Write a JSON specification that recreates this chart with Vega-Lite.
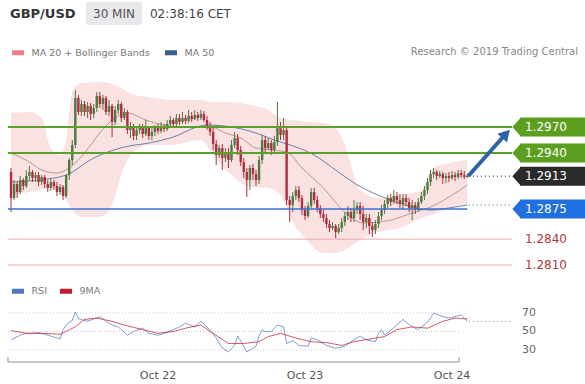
{
  "$schema": "https://vega.github.io/schema/vega-lite/v6.json",
  "width": 585,
  "height": 384,
  "padding": 0,
  "autosize": {"type": "none"},
  "background": "#ffffff",
  "config": {
    "view": {"stroke": null},
    "axis": {"disable": true},
    "text": {"font": "DejaVu Sans"}
  },
  "datasets": {
    "candles": [
      {"t":"2019-10-21T00:00","o":1.29178,"h":1.29225,"l":1.28714,"c":1.28877},
      {"t":"2019-10-21T00:30","o":1.28877,"h":1.29085,"l":1.28853,"c":1.29039},
      {"t":"2019-10-21T01:00","o":1.29039,"h":1.29062,"l":1.28877,"c":1.28946},
      {"t":"2019-10-21T01:30","o":1.28946,"h":1.29132,"l":1.28923,"c":1.29085},
      {"t":"2019-10-21T02:00","o":1.29085,"h":1.29109,"l":1.28969,"c":1.29016},
      {"t":"2019-10-21T02:30","o":1.29016,"h":1.29201,"l":1.28993,"c":1.29132},
      {"t":"2019-10-21T03:00","o":1.29132,"h":1.29248,"l":1.29085,"c":1.29178},
      {"t":"2019-10-21T03:30","o":1.29178,"h":1.29201,"l":1.29062,"c":1.29109},
      {"t":"2019-10-21T04:00","o":1.29109,"h":1.29178,"l":1.29062,"c":1.29143},
      {"t":"2019-10-21T04:30","o":1.29143,"h":1.29178,"l":1.29016,"c":1.29062},
      {"t":"2019-10-21T05:00","o":1.29062,"h":1.29143,"l":1.29027,"c":1.29120},
      {"t":"2019-10-21T05:30","o":1.29120,"h":1.29143,"l":1.28993,"c":1.29039},
      {"t":"2019-10-21T06:00","o":1.29039,"h":1.29085,"l":1.28946,"c":1.28993},
      {"t":"2019-10-21T06:30","o":1.28993,"h":1.29097,"l":1.28958,"c":1.29062},
      {"t":"2019-10-21T07:00","o":1.29062,"h":1.29085,"l":1.28969,"c":1.29016},
      {"t":"2019-10-21T07:30","o":1.29016,"h":1.29062,"l":1.28900,"c":1.28946},
      {"t":"2019-10-21T08:00","o":1.28946,"h":1.29039,"l":1.28912,"c":1.29004},
      {"t":"2019-10-21T08:30","o":1.29004,"h":1.29027,"l":1.28853,"c":1.28900},
      {"t":"2019-10-21T09:00","o":1.28900,"h":1.29143,"l":1.28877,"c":1.29143},
      {"t":"2019-10-21T09:30","o":1.29143,"h":1.29340,"l":1.29085,"c":1.29317},
      {"t":"2019-10-21T10:00","o":1.29317,"h":1.29549,"l":1.29259,"c":1.29491},
      {"t":"2019-10-21T10:30","o":1.29491,"h":1.30129,"l":1.29456,"c":1.30036},
      {"t":"2019-10-21T11:00","o":1.30036,"h":1.30071,"l":1.29839,"c":1.29874},
      {"t":"2019-10-21T11:30","o":1.29874,"h":1.30013,"l":1.29828,"c":1.29967},
      {"t":"2019-10-21T12:00","o":1.29967,"h":1.30002,"l":1.29828,"c":1.29874},
      {"t":"2019-10-21T12:30","o":1.29874,"h":1.29990,"l":1.29805,"c":1.29944},
      {"t":"2019-10-21T13:00","o":1.29944,"h":1.29978,"l":1.29781,"c":1.29851},
      {"t":"2019-10-21T13:30","o":1.29851,"h":1.29967,"l":1.29805,"c":1.29920},
      {"t":"2019-10-21T14:00","o":1.29920,"h":1.30105,"l":1.29874,"c":1.30059},
      {"t":"2019-10-21T14:30","o":1.30059,"h":1.30105,"l":1.29920,"c":1.29967},
      {"t":"2019-10-21T15:00","o":1.29967,"h":1.30071,"l":1.29897,"c":1.30036},
      {"t":"2019-10-21T15:30","o":1.30036,"h":1.30059,"l":1.29839,"c":1.29874},
      {"t":"2019-10-21T16:00","o":1.29874,"h":1.30013,"l":1.29828,"c":1.29944},
      {"t":"2019-10-21T16:30","o":1.29944,"h":1.29967,"l":1.29584,"c":1.29758},
      {"t":"2019-10-21T17:00","o":1.29758,"h":1.29944,"l":1.29723,"c":1.29897},
      {"t":"2019-10-21T17:30","o":1.29897,"h":1.30013,"l":1.29851,"c":1.29967},
      {"t":"2019-10-21T18:00","o":1.29967,"h":1.29990,"l":1.29758,"c":1.29805},
      {"t":"2019-10-21T18:30","o":1.29805,"h":1.29920,"l":1.29781,"c":1.29874},
      {"t":"2019-10-21T19:00","o":1.29874,"h":1.29897,"l":1.29619,"c":1.29665},
      {"t":"2019-10-21T19:30","o":1.29665,"h":1.29758,"l":1.29572,"c":1.29712},
      {"t":"2019-10-21T20:00","o":1.29712,"h":1.29735,"l":1.29549,"c":1.29596},
      {"t":"2019-10-21T20:30","o":1.29596,"h":1.29712,"l":1.29549,"c":1.29665},
      {"t":"2019-10-21T21:00","o":1.29665,"h":1.29735,"l":1.29619,"c":1.29712},
      {"t":"2019-10-21T21:30","o":1.29712,"h":1.29735,"l":1.29572,"c":1.29619},
      {"t":"2019-10-21T22:00","o":1.29619,"h":1.29781,"l":1.29596,"c":1.29689},
      {"t":"2019-10-21T22:30","o":1.29689,"h":1.29712,"l":1.29549,"c":1.29596},
      {"t":"2019-10-21T23:00","o":1.29596,"h":1.29689,"l":1.29549,"c":1.29642},
      {"t":"2019-10-21T23:30","o":1.29642,"h":1.29723,"l":1.29596,"c":1.29689},
      {"t":"2019-10-22T00:00","o":1.29689,"h":1.29735,"l":1.29619,"c":1.29654},
      {"t":"2019-10-22T00:30","o":1.29654,"h":1.29758,"l":1.29630,"c":1.29700},
      {"t":"2019-10-22T01:00","o":1.29700,"h":1.29735,"l":1.29642,"c":1.29677},
      {"t":"2019-10-22T01:30","o":1.29677,"h":1.29781,"l":1.29654,"c":1.29735},
      {"t":"2019-10-22T02:00","o":1.29735,"h":1.29828,"l":1.29712,"c":1.29781},
      {"t":"2019-10-22T02:30","o":1.29781,"h":1.29805,"l":1.29689,"c":1.29735},
      {"t":"2019-10-22T03:00","o":1.29735,"h":1.29851,"l":1.29712,"c":1.29805},
      {"t":"2019-10-22T03:30","o":1.29805,"h":1.29851,"l":1.29723,"c":1.29758},
      {"t":"2019-10-22T04:00","o":1.29758,"h":1.29874,"l":1.29735,"c":1.29805},
      {"t":"2019-10-22T04:30","o":1.29805,"h":1.29839,"l":1.29735,"c":1.29770},
      {"t":"2019-10-22T05:00","o":1.29770,"h":1.29897,"l":1.29747,"c":1.29828},
      {"t":"2019-10-22T05:30","o":1.29828,"h":1.29874,"l":1.29758,"c":1.29793},
      {"t":"2019-10-22T06:00","o":1.29793,"h":1.29897,"l":1.29781,"c":1.29839},
      {"t":"2019-10-22T06:30","o":1.29839,"h":1.29874,"l":1.29770,"c":1.29805},
      {"t":"2019-10-22T07:00","o":1.29805,"h":1.29897,"l":1.29781,"c":1.29851},
      {"t":"2019-10-22T07:30","o":1.29851,"h":1.29886,"l":1.29758,"c":1.29781},
      {"t":"2019-10-22T08:00","o":1.29781,"h":1.29828,"l":1.29665,"c":1.29712},
      {"t":"2019-10-22T08:30","o":1.29712,"h":1.29758,"l":1.29596,"c":1.29642},
      {"t":"2019-10-22T09:00","o":1.29642,"h":1.29689,"l":1.29433,"c":1.29503},
      {"t":"2019-10-22T09:30","o":1.29503,"h":1.29549,"l":1.29259,"c":1.29375},
      {"t":"2019-10-22T10:00","o":1.29375,"h":1.29491,"l":1.29340,"c":1.29456},
      {"t":"2019-10-22T10:30","o":1.29456,"h":1.29503,"l":1.29201,"c":1.29340},
      {"t":"2019-10-22T11:00","o":1.29340,"h":1.29456,"l":1.29294,"c":1.29410},
      {"t":"2019-10-22T11:30","o":1.29410,"h":1.29456,"l":1.29225,"c":1.29317},
      {"t":"2019-10-22T12:00","o":1.29317,"h":1.29549,"l":1.29294,"c":1.29491},
      {"t":"2019-10-22T12:30","o":1.29491,"h":1.29642,"l":1.29456,"c":1.29572},
      {"t":"2019-10-22T13:00","o":1.29572,"h":1.29619,"l":1.29375,"c":1.29433},
      {"t":"2019-10-22T13:30","o":1.29433,"h":1.29480,"l":1.29248,"c":1.29294},
      {"t":"2019-10-22T14:00","o":1.29294,"h":1.29340,"l":1.29109,"c":1.29178},
      {"t":"2019-10-22T14:30","o":1.29178,"h":1.29225,"l":1.28888,"c":1.29085},
      {"t":"2019-10-22T15:00","o":1.29085,"h":1.29259,"l":1.28969,"c":1.29225},
      {"t":"2019-10-22T15:30","o":1.29225,"h":1.29271,"l":1.29085,"c":1.29155},
      {"t":"2019-10-22T16:00","o":1.29155,"h":1.29201,"l":1.29016,"c":1.29085},
      {"t":"2019-10-22T16:30","o":1.29085,"h":1.29364,"l":1.29039,"c":1.29317},
      {"t":"2019-10-22T17:00","o":1.29317,"h":1.29607,"l":1.29271,"c":1.29549},
      {"t":"2019-10-22T17:30","o":1.29549,"h":1.29596,"l":1.29410,"c":1.29456},
      {"t":"2019-10-22T18:00","o":1.29456,"h":1.29572,"l":1.29433,"c":1.29514},
      {"t":"2019-10-22T18:30","o":1.29514,"h":1.29549,"l":1.29375,"c":1.29433},
      {"t":"2019-10-22T19:00","o":1.29433,"h":1.29596,"l":1.29410,"c":1.29526},
      {"t":"2019-10-22T19:30","o":1.29526,"h":1.29990,"l":1.29480,"c":1.29712},
      {"t":"2019-10-22T20:00","o":1.29712,"h":1.29758,"l":1.29549,"c":1.29607},
      {"t":"2019-10-22T20:30","o":1.29607,"h":1.29805,"l":1.29549,"c":1.29665},
      {"t":"2019-10-22T21:00","o":1.29665,"h":1.29712,"l":1.28795,"c":1.28853},
      {"t":"2019-10-22T21:30","o":1.28853,"h":1.28900,"l":1.28598,"c":1.28795},
      {"t":"2019-10-22T22:00","o":1.28795,"h":1.28946,"l":1.28714,"c":1.28900},
      {"t":"2019-10-22T22:30","o":1.28900,"h":1.29016,"l":1.28853,"c":1.28969},
      {"t":"2019-10-22T23:00","o":1.28969,"h":1.29016,"l":1.28830,"c":1.28877},
      {"t":"2019-10-22T23:30","o":1.28877,"h":1.28912,"l":1.28679,"c":1.28737},
      {"t":"2019-10-23T00:00","o":1.28737,"h":1.28784,"l":1.28621,"c":1.28668},
      {"t":"2019-10-23T00:30","o":1.28668,"h":1.28830,"l":1.28645,"c":1.28784},
      {"t":"2019-10-23T01:00","o":1.28784,"h":1.28993,"l":1.28761,"c":1.28946},
      {"t":"2019-10-23T01:30","o":1.28946,"h":1.28993,"l":1.28807,"c":1.28853},
      {"t":"2019-10-23T02:00","o":1.28853,"h":1.28900,"l":1.28714,"c":1.28761},
      {"t":"2019-10-23T02:30","o":1.28761,"h":1.28795,"l":1.28645,"c":1.28691},
      {"t":"2019-10-23T03:00","o":1.28691,"h":1.28737,"l":1.28598,"c":1.28645},
      {"t":"2019-10-23T03:30","o":1.28645,"h":1.28691,"l":1.28529,"c":1.28575},
      {"t":"2019-10-23T04:00","o":1.28575,"h":1.28621,"l":1.28482,"c":1.28529},
      {"t":"2019-10-23T04:30","o":1.28529,"h":1.28598,"l":1.28505,"c":1.28552},
      {"t":"2019-10-23T05:00","o":1.28552,"h":1.28575,"l":1.28413,"c":1.28482},
      {"t":"2019-10-23T05:30","o":1.28482,"h":1.28575,"l":1.28459,"c":1.28529},
      {"t":"2019-10-23T06:00","o":1.28529,"h":1.28645,"l":1.28482,"c":1.28598},
      {"t":"2019-10-23T06:30","o":1.28598,"h":1.28714,"l":1.28552,"c":1.28668},
      {"t":"2019-10-23T07:00","o":1.28668,"h":1.28784,"l":1.28621,"c":1.28714},
      {"t":"2019-10-23T07:30","o":1.28714,"h":1.28761,"l":1.28598,"c":1.28645},
      {"t":"2019-10-23T08:00","o":1.28645,"h":1.28853,"l":1.28598,"c":1.28737},
      {"t":"2019-10-23T08:30","o":1.28737,"h":1.28830,"l":1.28691,"c":1.28784},
      {"t":"2019-10-23T09:00","o":1.28784,"h":1.28830,"l":1.28621,"c":1.28691},
      {"t":"2019-10-23T09:30","o":1.28691,"h":1.28784,"l":1.28505,"c":1.28598},
      {"t":"2019-10-23T10:00","o":1.28598,"h":1.28691,"l":1.28529,"c":1.28645},
      {"t":"2019-10-23T10:30","o":1.28645,"h":1.28691,"l":1.28459,"c":1.28552},
      {"t":"2019-10-23T11:00","o":1.28552,"h":1.28598,"l":1.28424,"c":1.28505},
      {"t":"2019-10-23T11:30","o":1.28505,"h":1.28621,"l":1.28459,"c":1.28575},
      {"t":"2019-10-23T12:00","o":1.28575,"h":1.28714,"l":1.28529,"c":1.28668},
      {"t":"2019-10-23T12:30","o":1.28668,"h":1.28795,"l":1.28621,"c":1.28737},
      {"t":"2019-10-23T13:00","o":1.28737,"h":1.28853,"l":1.28691,"c":1.28807},
      {"t":"2019-10-23T13:30","o":1.28807,"h":1.28912,"l":1.28761,"c":1.28877},
      {"t":"2019-10-23T14:00","o":1.28877,"h":1.28923,"l":1.28784,"c":1.28830},
      {"t":"2019-10-23T14:30","o":1.28830,"h":1.28969,"l":1.28807,"c":1.28900},
      {"t":"2019-10-23T15:00","o":1.28900,"h":1.28946,"l":1.28807,"c":1.28853},
      {"t":"2019-10-23T15:30","o":1.28853,"h":1.28923,"l":1.28761,"c":1.28807},
      {"t":"2019-10-23T16:00","o":1.28807,"h":1.28923,"l":1.28737,"c":1.28877},
      {"t":"2019-10-23T16:30","o":1.28877,"h":1.28923,"l":1.28784,"c":1.28830},
      {"t":"2019-10-23T17:00","o":1.28830,"h":1.28877,"l":1.28714,"c":1.28761},
      {"t":"2019-10-23T17:30","o":1.28761,"h":1.28853,"l":1.28621,"c":1.28795},
      {"t":"2019-10-23T18:00","o":1.28795,"h":1.28830,"l":1.28691,"c":1.28737},
      {"t":"2019-10-23T18:30","o":1.28737,"h":1.28877,"l":1.28714,"c":1.28830},
      {"t":"2019-10-23T19:00","o":1.28830,"h":1.28946,"l":1.28807,"c":1.28900},
      {"t":"2019-10-23T19:30","o":1.28900,"h":1.29016,"l":1.28853,"c":1.28969},
      {"t":"2019-10-23T20:00","o":1.28969,"h":1.29109,"l":1.28923,"c":1.29062},
      {"t":"2019-10-23T20:30","o":1.29062,"h":1.29201,"l":1.29016,"c":1.29155},
      {"t":"2019-10-23T21:00","o":1.29155,"h":1.29225,"l":1.29109,"c":1.29178},
      {"t":"2019-10-23T21:30","o":1.29178,"h":1.29201,"l":1.29085,"c":1.29132},
      {"t":"2019-10-23T22:00","o":1.29132,"h":1.29190,"l":1.29109,"c":1.29155},
      {"t":"2019-10-23T22:30","o":1.29155,"h":1.29178,"l":1.29039,"c":1.29109},
      {"t":"2019-10-23T23:00","o":1.29109,"h":1.29167,"l":1.29051,"c":1.29132},
      {"t":"2019-10-23T23:30","o":1.29132,"h":1.29178,"l":1.29062,"c":1.29109},
      {"t":"2019-10-24T00:00","o":1.29109,"h":1.29190,"l":1.29085,"c":1.29143},
      {"t":"2019-10-24T00:30","o":1.29143,"h":1.29178,"l":1.29074,"c":1.29120},
      {"t":"2019-10-24T01:00","o":1.29120,"h":1.29201,"l":1.29097,"c":1.29167},
      {"t":"2019-10-24T01:30","o":1.29167,"h":1.29201,"l":1.29109,"c":1.29143},
      {"t":"2019-10-24T02:00","o":1.29143,"h":1.29190,"l":1.29097,"c":1.29120},
      {"t":"2019-10-24T02:30","o":1.29120,"h":1.29155,"l":1.29109,"c":1.29132}
    ],
    "band": [
      {"t":"2019-10-21T00:00","upper":1.29863,"lower":1.28912},
      {"t":"2019-10-21T03:00","upper":1.29874,"lower":1.28946},
      {"t":"2019-10-21T05:00","upper":1.29805,"lower":1.28969},
      {"t":"2019-10-21T06:30","upper":1.29456,"lower":1.28993},
      {"t":"2019-10-21T08:00","upper":1.29375,"lower":1.28946},
      {"t":"2019-10-21T09:00","upper":1.29549,"lower":1.28853},
      {"t":"2019-10-21T10:00","upper":1.30105,"lower":1.28737},
      {"t":"2019-10-21T11:30","upper":1.30210,"lower":1.28656},
      {"t":"2019-10-21T14:30","upper":1.30222,"lower":1.28656},
      {"t":"2019-10-21T16:30","upper":1.30199,"lower":1.28795},
      {"t":"2019-10-21T18:00","upper":1.30152,"lower":1.29143},
      {"t":"2019-10-21T20:00","upper":1.30071,"lower":1.29410},
      {"t":"2019-10-21T22:30","upper":1.30048,"lower":1.29491},
      {"t":"2019-10-22T02:00","upper":1.30013,"lower":1.29491},
      {"t":"2019-10-22T07:00","upper":1.30013,"lower":1.29549},
      {"t":"2019-10-22T09:00","upper":1.29990,"lower":1.29375},
      {"t":"2019-10-22T12:00","upper":1.29990,"lower":1.29143},
      {"t":"2019-10-22T15:00","upper":1.29955,"lower":1.29004},
      {"t":"2019-10-22T18:00","upper":1.29897,"lower":1.28993},
      {"t":"2019-10-22T20:00","upper":1.29805,"lower":1.28912},
      {"t":"2019-10-22T22:00","upper":1.29781,"lower":1.28598},
      {"t":"2019-10-23T00:00","upper":1.29758,"lower":1.28413},
      {"t":"2019-10-23T03:00","upper":1.29747,"lower":1.28239},
      {"t":"2019-10-23T05:00","upper":1.29689,"lower":1.28239},
      {"t":"2019-10-23T06:30","upper":1.29491,"lower":1.28274},
      {"t":"2019-10-23T09:00","upper":1.28969,"lower":1.28390},
      {"t":"2019-10-23T12:00","upper":1.28877,"lower":1.28482},
      {"t":"2019-10-23T15:30","upper":1.28912,"lower":1.28529},
      {"t":"2019-10-23T19:00","upper":1.28969,"lower":1.28645},
      {"t":"2019-10-23T21:00","upper":1.29225,"lower":1.28691},
      {"t":"2019-10-23T23:30","upper":1.29283,"lower":1.28761},
      {"t":"2019-10-24T02:30","upper":1.29317,"lower":1.28795}
    ],
    "ma20": [
      {"t":"2019-10-21T00:00","v":1.29398},
      {"t":"2019-10-21T03:00","v":1.29294},
      {"t":"2019-10-21T05:00","v":1.29201},
      {"t":"2019-10-21T07:30","v":1.29167},
      {"t":"2019-10-21T09:30","v":1.29225},
      {"t":"2019-10-21T12:00","v":1.29398},
      {"t":"2019-10-21T14:30","v":1.29630},
      {"t":"2019-10-21T16:00","v":1.29747},
      {"t":"2019-10-21T19:00","v":1.29863},
      {"t":"2019-10-21T22:00","v":1.29781},
      {"t":"2019-10-22T01:00","v":1.29723},
      {"t":"2019-10-22T04:30","v":1.29700},
      {"t":"2019-10-22T08:30","v":1.29700},
      {"t":"2019-10-22T11:00","v":1.29630},
      {"t":"2019-10-22T13:30","v":1.29572},
      {"t":"2019-10-22T16:00","v":1.29456},
      {"t":"2019-10-22T18:30","v":1.29433},
      {"t":"2019-10-22T21:00","v":1.29410},
      {"t":"2019-10-22T23:30","v":1.29225},
      {"t":"2019-10-23T03:00","v":1.28993},
      {"t":"2019-10-23T06:30","v":1.28714},
      {"t":"2019-10-23T09:30","v":1.28587},
      {"t":"2019-10-23T14:00","v":1.28621},
      {"t":"2019-10-23T17:30","v":1.28703},
      {"t":"2019-10-23T20:30","v":1.28772},
      {"t":"2019-10-23T23:30","v":1.28888},
      {"t":"2019-10-24T02:30","v":1.29027}
    ],
    "ma50": [
      {"t":"2019-10-21T00:00","series":"MA 50","v":1.29062},
      {"t":"2019-10-21T04:30","series":"MA 50","v":1.29085},
      {"t":"2019-10-21T09:00","series":"MA 50","v":1.29143},
      {"t":"2019-10-21T13:30","series":"MA 50","v":1.29340},
      {"t":"2019-10-21T18:30","series":"MA 50","v":1.29468},
      {"t":"2019-10-21T22:30","series":"MA 50","v":1.29514},
      {"t":"2019-10-22T02:00","series":"MA 50","v":1.29572},
      {"t":"2019-10-22T08:00","series":"MA 50","v":1.29723},
      {"t":"2019-10-22T12:00","series":"MA 50","v":1.29700},
      {"t":"2019-10-22T16:00","series":"MA 50","v":1.29630},
      {"t":"2019-10-22T19:00","series":"MA 50","v":1.29549},
      {"t":"2019-10-22T23:00","series":"MA 50","v":1.29456},
      {"t":"2019-10-23T01:30","series":"MA 50","v":1.29375},
      {"t":"2019-10-23T05:00","series":"MA 50","v":1.29201},
      {"t":"2019-10-23T08:00","series":"MA 50","v":1.29051},
      {"t":"2019-10-23T14:00","series":"MA 50","v":1.28853},
      {"t":"2019-10-23T17:30","series":"MA 50","v":1.28772},
      {"t":"2019-10-23T20:30","series":"MA 50","v":1.28737},
      {"t":"2019-10-23T23:30","series":"MA 50","v":1.28761},
      {"t":"2019-10-24T02:30","series":"MA 50","v":1.28795}
    ],
    "levels": [
      {"level":1.2970,"kind":"res"},
      {"level":1.2940,"kind":"res"},
      {"level":1.2913,"kind":"last"},
      {"level":1.2875,"kind":"sup"},
      {"level":1.2840,"kind":"sup2"},
      {"level":1.2810,"kind":"sup2"}
    ],
    "rsi": [
      {"t":"2019-10-21T00:00","series":"RSI","v":41},
      {"t":"2019-10-21T01:30","series":"RSI","v":46},
      {"t":"2019-10-21T02:30","series":"RSI","v":48},
      {"t":"2019-10-21T04:30","series":"RSI","v":49},
      {"t":"2019-10-21T06:00","series":"RSI","v":46},
      {"t":"2019-10-21T07:30","series":"RSI","v":43},
      {"t":"2019-10-21T08:00","series":"RSI","v":42},
      {"t":"2019-10-21T08:30","series":"RSI","v":52},
      {"t":"2019-10-21T09:00","series":"RSI","v":57},
      {"t":"2019-10-21T09:30","series":"RSI","v":60},
      {"t":"2019-10-21T10:00","series":"RSI","v":62},
      {"t":"2019-10-21T10:30","series":"RSI","v":71},
      {"t":"2019-10-21T11:00","series":"RSI","v":64},
      {"t":"2019-10-21T11:30","series":"RSI","v":63},
      {"t":"2019-10-21T12:30","series":"RSI","v":61},
      {"t":"2019-10-21T13:30","series":"RSI","v":63.5},
      {"t":"2019-10-21T14:30","series":"RSI","v":66},
      {"t":"2019-10-21T15:30","series":"RSI","v":61},
      {"t":"2019-10-21T16:30","series":"RSI","v":57},
      {"t":"2019-10-21T17:30","series":"RSI","v":55},
      {"t":"2019-10-21T19:00","series":"RSI","v":46},
      {"t":"2019-10-21T20:00","series":"RSI","v":50},
      {"t":"2019-10-21T21:30","series":"RSI","v":53.6},
      {"t":"2019-10-21T22:30","series":"RSI","v":48},
      {"t":"2019-10-22T00:00","series":"RSI","v":46},
      {"t":"2019-10-22T01:00","series":"RSI","v":48},
      {"t":"2019-10-22T02:30","series":"RSI","v":52},
      {"t":"2019-10-22T03:30","series":"RSI","v":55},
      {"t":"2019-10-22T04:30","series":"RSI","v":59},
      {"t":"2019-10-22T06:00","series":"RSI","v":55},
      {"t":"2019-10-22T07:00","series":"RSI","v":61},
      {"t":"2019-10-22T08:00","series":"RSI","v":55},
      {"t":"2019-10-22T09:30","series":"RSI","v":43},
      {"t":"2019-10-22T10:30","series":"RSI","v":32},
      {"t":"2019-10-22T11:30","series":"RSI","v":28},
      {"t":"2019-10-22T12:30","series":"RSI","v":35},
      {"t":"2019-10-22T13:00","series":"RSI","v":45},
      {"t":"2019-10-22T13:30","series":"RSI","v":40},
      {"t":"2019-10-22T14:30","series":"RSI","v":28},
      {"t":"2019-10-22T16:00","series":"RSI","v":34},
      {"t":"2019-10-22T16:30","series":"RSI","v":45},
      {"t":"2019-10-22T17:00","series":"RSI","v":52},
      {"t":"2019-10-22T17:30","series":"RSI","v":50},
      {"t":"2019-10-22T18:30","series":"RSI","v":50},
      {"t":"2019-10-22T19:30","series":"RSI","v":57},
      {"t":"2019-10-22T20:30","series":"RSI","v":55},
      {"t":"2019-10-22T21:00","series":"RSI","v":37},
      {"t":"2019-10-22T22:00","series":"RSI","v":40},
      {"t":"2019-10-22T23:00","series":"RSI","v":35},
      {"t":"2019-10-23T00:30","series":"RSI","v":34},
      {"t":"2019-10-23T01:00","series":"RSI","v":43},
      {"t":"2019-10-23T02:00","series":"RSI","v":41},
      {"t":"2019-10-23T03:30","series":"RSI","v":35},
      {"t":"2019-10-23T05:00","series":"RSI","v":32},
      {"t":"2019-10-23T06:30","series":"RSI","v":34},
      {"t":"2019-10-23T07:30","series":"RSI","v":39},
      {"t":"2019-10-23T09:00","series":"RSI","v":45},
      {"t":"2019-10-23T10:00","series":"RSI","v":41},
      {"t":"2019-10-23T11:30","series":"RSI","v":39},
      {"t":"2019-10-23T12:00","series":"RSI","v":48},
      {"t":"2019-10-23T12:30","series":"RSI","v":52},
      {"t":"2019-10-23T13:00","series":"RSI","v":46},
      {"t":"2019-10-23T15:00","series":"RSI","v":57},
      {"t":"2019-10-23T16:00","series":"RSI","v":63},
      {"t":"2019-10-23T17:30","series":"RSI","v":55},
      {"t":"2019-10-23T18:30","series":"RSI","v":52},
      {"t":"2019-10-23T20:00","series":"RSI","v":60},
      {"t":"2019-10-23T21:00","series":"RSI","v":70},
      {"t":"2019-10-23T22:30","series":"RSI","v":66},
      {"t":"2019-10-23T23:30","series":"RSI","v":64.5},
      {"t":"2019-10-24T00:30","series":"RSI","v":66},
      {"t":"2019-10-24T01:30","series":"RSI","v":68},
      {"t":"2019-10-24T02:30","series":"RSI","v":61},
      {"t":"2019-10-21T00:00","series":"9MA","v":51},
      {"t":"2019-10-21T03:00","series":"9MA","v":47.5},
      {"t":"2019-10-21T05:30","series":"9MA","v":48},
      {"t":"2019-10-21T08:00","series":"9MA","v":47},
      {"t":"2019-10-21T10:30","series":"9MA","v":55},
      {"t":"2019-10-21T12:00","series":"9MA","v":63},
      {"t":"2019-10-21T14:00","series":"9MA","v":64.5},
      {"t":"2019-10-21T16:30","series":"9MA","v":61},
      {"t":"2019-10-21T18:30","series":"9MA","v":57},
      {"t":"2019-10-21T21:30","series":"9MA","v":52},
      {"t":"2019-10-22T00:00","series":"9MA","v":48},
      {"t":"2019-10-22T02:30","series":"9MA","v":50},
      {"t":"2019-10-22T04:30","series":"9MA","v":53.6},
      {"t":"2019-10-22T07:00","series":"9MA","v":57},
      {"t":"2019-10-22T09:00","series":"9MA","v":48},
      {"t":"2019-10-22T11:30","series":"9MA","v":37},
      {"t":"2019-10-22T14:00","series":"9MA","v":37},
      {"t":"2019-10-22T16:30","series":"9MA","v":39},
      {"t":"2019-10-22T18:00","series":"9MA","v":44.5},
      {"t":"2019-10-22T20:00","series":"9MA","v":48},
      {"t":"2019-10-22T22:30","series":"9MA","v":43},
      {"t":"2019-10-23T01:00","series":"9MA","v":39},
      {"t":"2019-10-23T03:30","series":"9MA","v":38},
      {"t":"2019-10-23T06:00","series":"9MA","v":35},
      {"t":"2019-10-23T08:00","series":"9MA","v":39},
      {"t":"2019-10-23T11:30","series":"9MA","v":43},
      {"t":"2019-10-23T13:00","series":"9MA","v":44.5},
      {"t":"2019-10-23T15:00","series":"9MA","v":52},
      {"t":"2019-10-23T17:30","series":"9MA","v":55},
      {"t":"2019-10-23T20:00","series":"9MA","v":53.6},
      {"t":"2019-10-23T22:30","series":"9MA","v":61},
      {"t":"2019-10-24T00:30","series":"9MA","v":64.5},
      {"t":"2019-10-24T02:30","series":"9MA","v":63.5}
    ],
    "rsigrid": [{"v":70},{"v":50},{"v":30}],
    "days": [{"t":"2019-10-22T00:00"},{"t":"2019-10-23T00:00"},{"t":"2019-10-24T00:00"}]
  },
  "layer": [
    {
      "layer": [
        {
          "data": {"name": "band"},
          "mark": {"type": "area", "interpolate": "monotone", "fill": "#f08c8c", "fillOpacity": 0.25},
          "encoding": {
            "x": {"field": "t", "type": "temporal", "axis": null, "scale": {"domain": [{"year":2019,"month":10,"date":20,"hours":22,"minutes":12},{"year":2019,"month":10,"date":24,"hours":21,"minutes":43}], "nice": false, "padding": 0}},
            "y": {"field": "upper", "type": "quantitative", "axis": null, "scale": {"domain": [1.267203, 1.311725], "nice": false, "zero": false, "padding": 0}},
            "y2": {"field": "lower"}
          }
        },
        {
          "data": {"name": "ma20"},
          "mark": {"type": "line", "interpolate": "monotone", "stroke": "#b48c8c", "strokeWidth": 1, "strokeOpacity": 0.9},
          "encoding": {
            "x": {"field": "t", "type": "temporal"},
            "y": {"field": "v", "type": "quantitative"}
          }
        },
        {
          "data": {"name": "ma50"},
          "mark": {"type": "line", "interpolate": "monotone", "strokeWidth": 1, "strokeOpacity": 0.75},
          "encoding": {
            "x": {"field": "t", "type": "temporal"},
            "y": {"field": "v", "type": "quantitative"},
            "stroke": {
              "field": "series", "type": "nominal",
              "scale": {"domain": ["MA 20 + Bollinger Bands", "MA 50"], "range": ["#ec8088", "#3a5f8c"]},
              "legend": {"orient": "none", "legendX": 9.5, "legendY": 44, "direction": "horizontal", "title": null, "symbolType": "M-1,0H1", "symbolSize": 144, "symbolStrokeWidth": 5, "symbolOpacity": 1, "labelFont": "DejaVu Sans", "labelFontSize": 9.5, "labelColor": "#777777", "labelOffset": 5, "columnPadding": 4, "padding": 0}
            }
          }
        },
        {
          "data": {"name": "candles"},
          "mark": {"type": "rule", "strokeWidth": 1},
          "encoding": {
            "x": {"field": "t", "type": "temporal"},
            "y": {"field": "l", "type": "quantitative"},
            "y2": {"field": "h"},
            "color": {"condition": {"test": "datum.c >= datum.o", "value": "#4b7b3f"}, "value": "#b12c41"}
          }
        },
        {
          "data": {"name": "candles"},
          "mark": {"type": "bar", "width": 2.4},
          "encoding": {
            "x": {"field": "t", "type": "temporal"},
            "y": {"field": "o", "type": "quantitative"},
            "y2": {"field": "c"},
            "color": {"condition": {"test": "datum.c >= datum.o", "value": "#4b7b3f"}, "value": "#b12c41"}
          }
        },
        {
          "data": {"name": "levels"},
          "transform": [{"filter": "datum.kind == 'res'"}],
          "mark": {"type": "rule", "color": "#5aa12a", "strokeWidth": 2},
          "encoding": {
            "x": {"datum": {"year":2019,"month":10,"date":20,"hours":23,"minutes":30}},
            "x2": {"datum": {"year":2019,"month":10,"date":24,"hours":9,"minutes":48}},
            "y": {"field": "level", "type": "quantitative"}
          }
        },
        {
          "data": {"name": "levels"},
          "transform": [{"filter": "datum.kind == 'sup2'"}],
          "mark": {"type": "rule", "color": "#eba6a6", "strokeWidth": 1},
          "encoding": {
            "x": {"datum": {"year":2019,"month":10,"date":20,"hours":23,"minutes":30}},
            "x2": {"datum": {"year":2019,"month":10,"date":24,"hours":9,"minutes":48}},
            "y": {"field": "level", "type": "quantitative"}
          }
        },
        {
          "data": {"name": "levels"},
          "transform": [{"filter": "datum.kind == 'sup'"}],
          "mark": {"type": "rule", "color": "#3d6fd6", "strokeWidth": 1.5},
          "encoding": {
            "x": {"datum": {"year":2019,"month":10,"date":20,"hours":23,"minutes":30}},
            "x2": {"datum": {"year":2019,"month":10,"date":24,"hours":2,"minutes":30}},
            "y": {"field": "level", "type": "quantitative"}
          }
        },
        {
          "data": {"name": "levels"},
          "transform": [{"filter": "datum.kind == 'last'"}],
          "mark": {"type": "rule", "color": "#222222", "strokeWidth": 1, "strokeDash": [1, 3]},
          "encoding": {
            "x": {"datum": {"year":2019,"month":10,"date":24,"hours":2,"minutes":45}},
            "x2": {"datum": {"year":2019,"month":10,"date":24,"hours":9,"minutes":48}},
            "y": {"field": "level", "type": "quantitative"}
          }
        },
        {
          "data": {"values": [{}]},
          "mark": {"type": "rule", "color": "#556b8f", "strokeWidth": 1, "strokeDash": [1, 3]},
          "encoding": {
            "x": {"datum": {"year":2019,"month":10,"date":24,"hours":2,"minutes":45}},
            "x2": {"datum": {"year":2019,"month":10,"date":24,"hours":9,"minutes":48}},
            "y": {"datum": 1.28795}
          }
        },
        {
          "data": {"name": "levels"},
          "transform": [{"filter": "datum.kind != 'sup2'"}],
          "mark": {"type": "rect", "height": 19},
          "encoding": {
            "x": {"datum": {"year":2019,"month":10,"date":24,"hours":11,"minutes":6}},
            "x2": {"datum": {"year":2019,"month":10,"date":24,"hours":21,"minutes":43}},
            "y": {"field": "level", "type": "quantitative"},
            "color": {"condition": [{"test": "datum.kind == 'res'", "value": "#5c9f1e"}, {"test": "datum.kind == 'last'", "value": "#2a2a2a"}], "value": "#1f6fe0"}
          }
        },
        {
          "data": {"name": "levels"},
          "transform": [{"filter": "datum.kind != 'sup2'"}],
          "mark": {"type": "point", "shape": "M0.1,-1L-0.8,0L0.1,1Z", "size": 361, "filled": true, "opacity": 1, "strokeWidth": 0},
          "encoding": {
            "x": {"datum": {"year":2019,"month":10,"date":24,"hours":11,"minutes":6}},
            "y": {"field": "level", "type": "quantitative"},
            "color": {"condition": [{"test": "datum.kind == 'res'", "value": "#5c9f1e"}, {"test": "datum.kind == 'last'", "value": "#2a2a2a"}], "value": "#1f6fe0"}
          }
        },
        {
          "data": {"name": "levels"},
          "mark": {"type": "text", "align": "left", "baseline": "middle", "fontSize": 12},
          "encoding": {
            "x": {"datum": {"year":2019,"month":10,"date":24,"hours":11,"minutes":55}},
            "y": {"field": "level", "type": "quantitative"},
            "text": {"field": "level", "type": "quantitative", "format": ".4f"},
            "color": {"condition": {"test": "datum.kind == 'sup2'", "value": "#b23a3a"}, "value": "#ffffff"}
          }
        },
        {
          "data": {"values": [{}]},
          "mark": {"type": "rule", "color": "#2e63a6", "strokeWidth": 4},
          "encoding": {
            "x": {"datum": {"year":2019,"month":10,"date":24,"hours":2,"minutes":40}},
            "x2": {"datum": {"year":2019,"month":10,"date":24,"hours":8,"minutes":20}},
            "y": {"datum": 1.29132},
            "y2": {"datum": 1.29584}
          }
        },
        {
          "data": {"values": [{}]},
          "mark": {"type": "point", "shape": "triangle-up", "angle": 42, "size": 170, "filled": true, "opacity": 1, "color": "#2e63a6"},
          "encoding": {
            "x": {"datum": {"year":2019,"month":10,"date":24,"hours":8,"minutes":49}},
            "y": {"datum": 1.29619}
          }
        },
        {
          "data": {"values": [{}]},
          "mark": {"type": "rect", "color": "#e9e9ec", "cornerRadius": 2},
          "encoding": {
            "x": {"datum": {"year":2019,"month":10,"date":21,"hours":12,"minutes":14}},
            "x2": {"datum": {"year":2019,"month":10,"date":21,"hours":21,"minutes":23}},
            "y": {"datum": 1.31149},
            "y2": {"datum": 1.30883}
          }
        },
        {
          "data": {"values": [{}]},
          "mark": {"type": "text", "text": "GBP/USD", "align": "left", "baseline": "middle", "fontSize": 13, "fontWeight": "bold", "color": "#333333"},
          "encoding": {
            "x": {"datum": {"year":2019,"month":10,"date":20,"hours":23,"minutes":50}},
            "y": {"datum": 1.31010}
          }
        },
        {
          "data": {"values": [{}]},
          "mark": {"type": "text", "text": "30 MIN", "align": "left", "baseline": "middle", "fontSize": 12, "color": "#555555"},
          "encoding": {
            "x": {"datum": {"year":2019,"month":10,"date":21,"hours":13,"minutes":23}},
            "y": {"datum": 1.31010}
          }
        },
        {
          "data": {"values": [{}]},
          "mark": {"type": "text", "text": "02:38:16 CET", "align": "left", "baseline": "middle", "fontSize": 12, "color": "#444444"},
          "encoding": {
            "x": {"datum": {"year":2019,"month":10,"date":21,"hours":22,"minutes":41}},
            "y": {"datum": 1.31010}
          }
        },
        {
          "data": {"values": [{}]},
          "mark": {"type": "text", "text": "Research © 2019 Trading Central", "align": "right", "baseline": "middle", "fontSize": 10, "color": "#888888"},
          "encoding": {
            "x": {"datum": {"year":2019,"month":10,"date":24,"hours":20,"minutes":34}},
            "y": {"datum": 1.30570}
          }
        }
      ]
    },
    {
      "layer": [
        {
          "data": {"name": "rsigrid"},
          "mark": {"type": "rule", "color": "#c8c8c8", "strokeWidth": 1, "strokeDash": [1, 2]},
          "encoding": {
            "x": {"datum": {"year":2019,"month":10,"date":20,"hours":23,"minutes":30}},
            "x2": {"datum": {"year":2019,"month":10,"date":24,"hours":1,"minutes":10}},
            "y": {"field": "v", "type": "quantitative", "axis": null, "scale": {"domain": [-6.76, 408.38], "nice": false, "zero": false, "padding": 0}}
          }
        },
        {
          "data": {"name": "rsigrid"},
          "mark": {"type": "text", "align": "left", "baseline": "middle", "fontSize": 11, "color": "#666666"},
          "encoding": {
            "x": {"datum": {"year":2019,"month":10,"date":24,"hours":11,"minutes":26}},
            "y": {"field": "v", "type": "quantitative"},
            "text": {"field": "v", "type": "quantitative"}
          }
        },
        {
          "data": {"name": "rsi"},
          "mark": {"type": "line", "strokeWidth": 1, "strokeOpacity": 0.72},
          "encoding": {
            "x": {"field": "t", "type": "temporal"},
            "y": {"field": "v", "type": "quantitative", "scale": {"domain": [-6.76, 408.38], "nice": false, "zero": false, "padding": 0}},
            "color": {
              "field": "series", "type": "nominal",
              "scale": {"domain": ["RSI", "9MA"], "range": ["#5577c8", "#c41c2c"]},
              "legend": {"orient": "none", "legendX": 9.5, "legendY": 282.5, "direction": "horizontal", "title": null, "symbolType": "M-1,0H1", "symbolSize": 144, "symbolStrokeWidth": 5, "symbolOpacity": 1, "labelFont": "DejaVu Sans", "labelFontSize": 9.5, "labelColor": "#777777", "labelOffset": 5, "columnPadding": 2, "padding": 0}
            }
          }
        },
        {
          "data": {"values": [{}]},
          "mark": {"type": "rule", "color": "#888888", "strokeWidth": 1, "strokeDash": [1, 3]},
          "encoding": {
            "x": {"datum": {"year":2019,"month":10,"date":24,"hours":2,"minutes":45}},
            "x2": {"datum": {"year":2019,"month":10,"date":24,"hours":9,"minutes":48}},
            "y": {"datum": 61}
          }
        },
        {
          "data": {"values": [{}]},
          "mark": {"type": "rule", "color": "#b5b5b5", "strokeWidth": 1.5},
          "encoding": {
            "x": {"datum": {"year":2019,"month":10,"date":20,"hours":23,"minutes":30}},
            "x2": {"datum": {"year":2019,"month":10,"date":24,"hours":1,"minutes":10}},
            "y": {"datum": 17}
          }
        },
        {
          "data": {"values": [{}]},
          "mark": {"type": "rule", "color": "#b5b5b5", "strokeWidth": 1.5},
          "encoding": {
            "x": {"datum": {"year":2019,"month":10,"date":20,"hours":23,"minutes":30}},
            "y": {"datum": 17},
            "y2": {"datum": 22.4}
          }
        },
        {
          "data": {"values": [{}]},
          "mark": {"type": "rule", "color": "#b5b5b5", "strokeWidth": 1.5},
          "encoding": {
            "x": {"datum": {"year":2019,"month":10,"date":24,"hours":1,"minutes":10}},
            "y": {"datum": 17},
            "y2": {"datum": 22.4}
          }
        },
        {
          "data": {"name": "days"},
          "mark": {"type": "text", "align": "center", "baseline": "middle", "fontSize": 11, "color": "#555555"},
          "encoding": {
            "x": {"field": "t", "type": "temporal"},
            "y": {"datum": 1.9},
            "text": {"field": "t", "type": "temporal", "format": "%b %d"}
          }
        }
      ]
    }
  ],
  "resolve": {"scale": {"y": "independent"}}
}
